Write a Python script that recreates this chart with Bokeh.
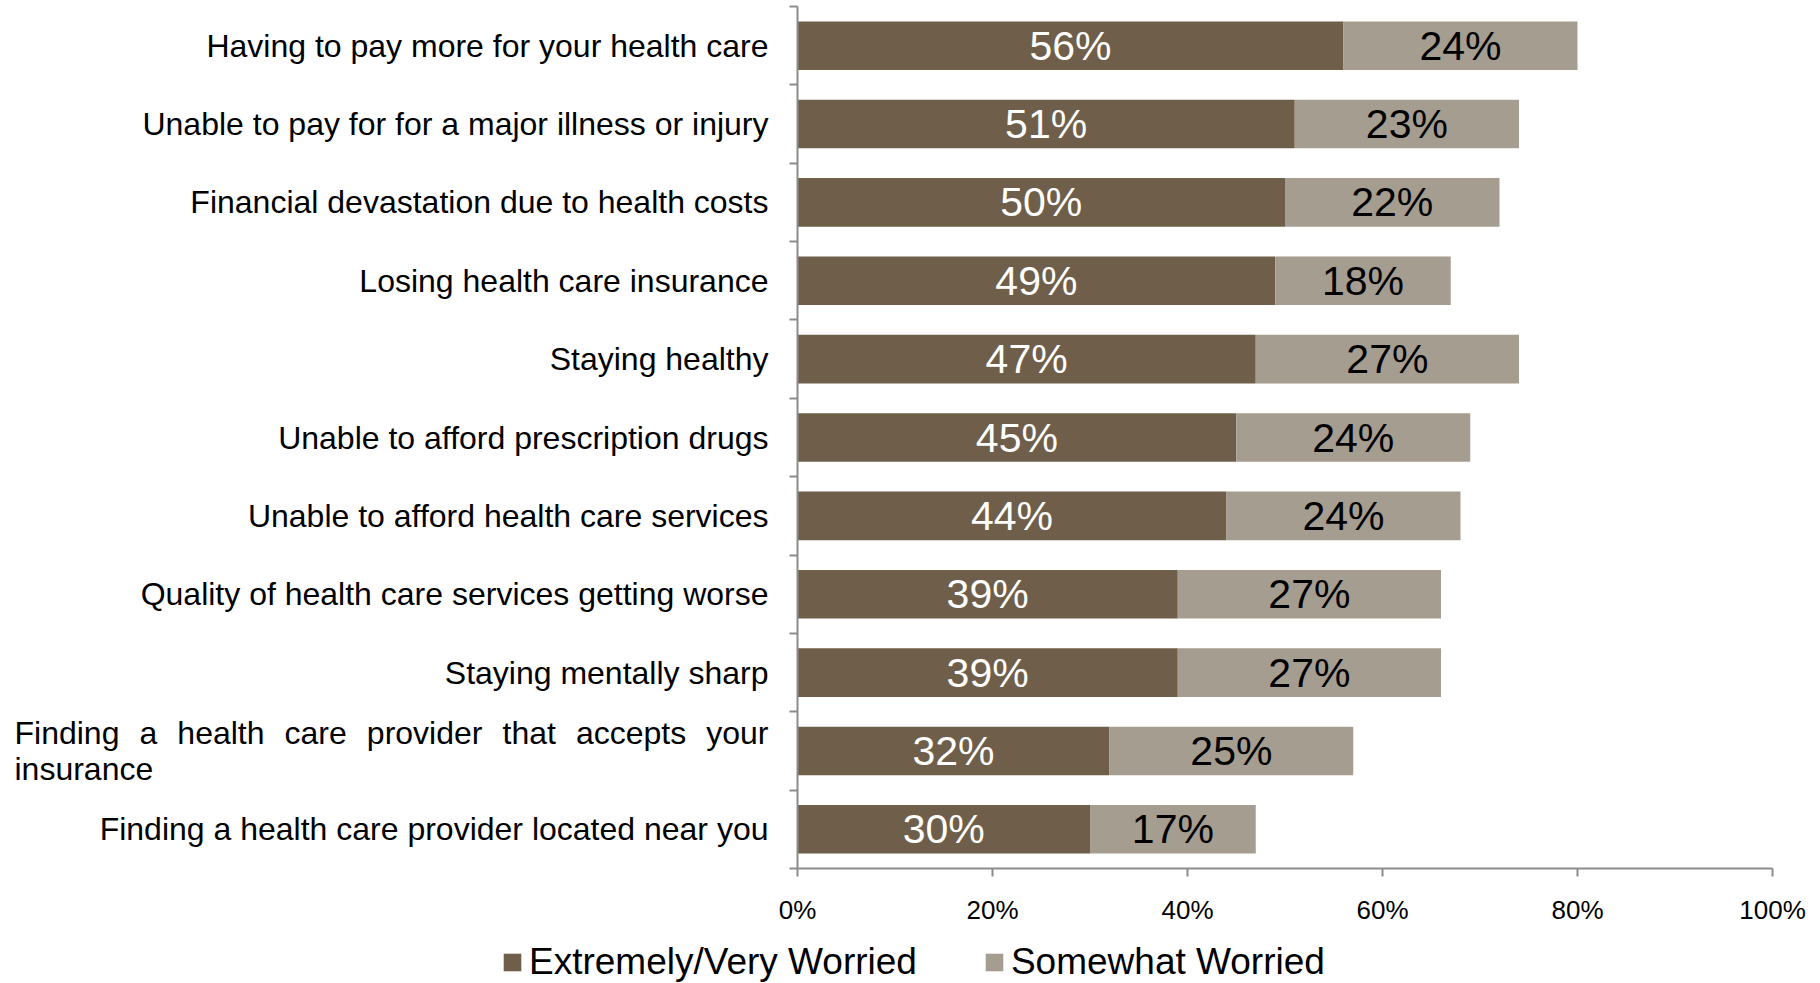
from bokeh.plotting import figure
from bokeh.layouts import row, column
from bokeh.models import (ColumnDataSource, LabelSet, Range1d, FixedTicker,
                          Legend, LegendItem)
from bokeh.core.properties import value
from bokeh.embed import file_html
from bokeh.resources import INLINE

# ---------------- data ----------------
categories = [
    "Having to pay more for your health care",
    "Unable to pay for for a major illness or injury",
    "Financial devastation due to health costs",
    "Losing health care insurance",
    "Staying healthy",
    "Unable to afford prescription drugs",
    "Unable to afford health care services",
    "Quality of health care services getting worse",
    "Staying mentally sharp",
    "Finding a health care provider that accepts your insurance",
    "Finding a health care provider located near you",
]
extremely = [56, 51, 50, 49, 47, 45, 44, 39, 39, 32, 30]
somewhat = [24, 23, 22, 18, 27, 24, 24, 27, 27, 25, 17]
series_names = ["Extremely/Very Worried", "Somewhat Worried"]
x_ticks = [0, 20, 40, 60, 80, 100]
x_tick_labels = ["0%", "20%", "40%", "60%", "80%", "100%"]

# ---------------- style / layout ----------------
DARK = "#6E5E4A"
LIGHT = "#A69D91"
AXIS = "#8C8C8C"
FONT = "Liberation Sans"
CAT_SIZE = 32
TOTAL_W, TOTAL_H = 1820, 983
LAB_W = 777            # width of the category-label column
TOP, BOTTOM = 6, 62    # borders above / below the plotting frame
MAIN_H = 930
LEG_H = TOTAL_H - MAIN_H

n = len(categories)
ypos = [n - 1 - i for i in range(n)]
y_range = Range1d(-0.5, n - 0.5)

src = ColumnDataSource(dict(
    y=ypos,
    ext=extremely,
    total=[a + b for a, b in zip(extremely, somewhat)],
    ext_mid=[a / 2 for a in extremely],
    som_mid=[a + b / 2 for a, b in zip(extremely, somewhat)],
    ext_lbl=[f"{v}%" for v in extremely],
    som_lbl=[f"{v}%" for v in somewhat],
))

# ---------------- main chart ----------------
p = figure(width=TOTAL_W - LAB_W, height=MAIN_H, output_backend="svg",
           toolbar_location=None, x_range=Range1d(0, 100), y_range=y_range,
           min_border_left=20, min_border_right=48, min_border_top=TOP,
           min_border_bottom=BOTTOM)
p.outline_line_color = None
p.xgrid.visible = False
p.ygrid.visible = False

r1 = p.hbar(y="y", left=0, right="ext", height=0.62, source=src,
            fill_color=DARK, line_color=None)
r2 = p.hbar(y="y", left="ext", right="total", height=0.62, source=src,
            fill_color=LIGHT, line_color=None)

xa = p.xaxis[0]
xa.ticker = FixedTicker(ticks=x_ticks)
xa.major_label_overrides = {t: l for t, l in zip(x_ticks, x_tick_labels)}
xa.axis_line_color = AXIS
xa.axis_line_width = 2
xa.major_tick_line_color = AXIS
xa.major_tick_line_width = 2
xa.major_tick_in = 0
xa.major_tick_out = 8
xa.minor_tick_line_color = None
xa.major_label_text_font = FONT
xa.major_label_text_font_size = "26px"
xa.major_label_text_color = "black"
xa.major_label_standoff = 18

y_bounds = [i - 0.5 for i in range(n + 1)]
ya = p.yaxis[0]
ya.ticker = FixedTicker(ticks=y_bounds)
ya.major_label_overrides = {t: "" for t in y_bounds}
ya.major_label_standoff = 0
ya.axis_line_color = AXIS
ya.axis_line_width = 2
ya.major_tick_line_color = AXIS
ya.major_tick_line_width = 2
ya.major_tick_in = 0
ya.major_tick_out = 8
ya.minor_tick_line_color = None

p.add_layout(LabelSet(x="ext_mid", y="y", text="ext_lbl", source=src,
                      text_align="center", text_baseline="middle",
                      text_color="white", text_font=value(FONT),
                      text_font_size="41px"))
p.add_layout(LabelSet(x="som_mid", y="y", text="som_lbl", source=src,
                      text_align="center", text_baseline="middle",
                      text_color="black", text_font=value(FONT),
                      text_font_size="41px"))

# ---------------- category labels column ----------------
lab = figure(width=LAB_W, height=MAIN_H, output_backend="svg",
             toolbar_location=None, x_range=Range1d(0, LAB_W), y_range=y_range,
             x_axis_type=None, y_axis_type=None, min_border_left=0,
             min_border_right=0, min_border_top=TOP, min_border_bottom=BOTTOM)
lab.outline_line_color = None
lab.xgrid.visible = False
lab.ygrid.visible = False

RIGHT_EDGE = 768
LEFT_EDGE = 14
ARIAL = {" ": .278, "a": .556, "c": .5, "d": .556, "e": .556, "g": .556, "h": .556,
         "i": .222, "l": .222, "n": .556, "o": .556, "p": .556, "r": .333, "s": .5,
         "t": .278, "u": .556, "v": .5, "y": .5, "F": .611}


def wwidth(word):
    return sum(ARIAL.get(c, .556) for c in word) * CAT_SIZE


simple = dict(x=[], y=[], t=[])
just = dict(x=[], y=[], t=[], dy=[])
for cat, y in zip(categories, ypos):
    words = cat.split()
    if wwidth(cat) > RIGHT_EDGE - LEFT_EDGE:
        # wrap: first line justified, second line left aligned
        first, rest = [], []
        for w in words:
            trial = " ".join(first + [w])
            if not rest and wwidth(trial) <= RIGHT_EDGE - LEFT_EDGE:
                first.append(w)
            else:
                rest.append(w)
        tot = sum(wwidth(w) for w in first)
        gap = ((RIGHT_EDGE - LEFT_EDGE) - tot) / max(len(first) - 1, 1)
        xx = LEFT_EDGE
        for w in first:
            just["x"].append(xx); just["y"].append(y); just["t"].append(w)
            just["dy"].append(-18)
            xx += wwidth(w) + gap
        just["x"].append(LEFT_EDGE); just["y"].append(y)
        just["t"].append(" ".join(rest)); just["dy"].append(18)
    else:
        simple["x"].append(RIGHT_EDGE); simple["y"].append(y); simple["t"].append(cat)

lab.text(x="x", y="y", text="t", source=ColumnDataSource(simple),
         text_align="right", text_baseline="middle", text_color="black",
         text_font=value(FONT), text_font_size=f"{CAT_SIZE}px")
for dy in (-18, 18):
    sub = {k: [v for v, d in zip(just[k], just["dy"]) if d == dy] for k in ("x", "y", "t")}
    lab.text(x="x", y="y", text="t", source=ColumnDataSource(sub), y_offset=dy,
             text_align="left", text_baseline="middle", text_color="black",
             text_font=value(FONT), text_font_size=f"{CAT_SIZE}px")

# ---------------- legend strip ----------------
leg = figure(width=TOTAL_W, height=LEG_H, output_backend="svg",
             toolbar_location=None, x_range=Range1d(0, 1), y_range=Range1d(0, 1),
             x_axis_type=None, y_axis_type=None, min_border_left=0,
             min_border_right=0, min_border_top=0, min_border_bottom=0)
leg.outline_line_color = None
leg.xgrid.visible = False
leg.ygrid.visible = False
# proxy renderers (placed outside the visible range) that only feed the legend
d1 = leg.hbar(y=[5], left=[5], right=[6], height=1, fill_color=DARK, line_color=None)
d2 = leg.hbar(y=[5], left=[5], right=[6], height=1, fill_color=LIGHT, line_color=None)
legend = Legend(items=[LegendItem(label=series_names[0], renderers=[d1]),
                       LegendItem(label=series_names[1], renderers=[d2])],
                orientation="horizontal", location=(501, 0),
                padding=0, margin=0, spacing=66, glyph_width=22, glyph_height=22,
                label_standoff=6, label_text_font=FONT, label_text_font_size="37px",
                label_text_color="black", border_line_alpha=0,
                background_fill_alpha=0)
leg.add_layout(legend, "center")

layout = column(row(lab, p), leg)
open("out.html", "w").write(file_html(layout, INLINE))
